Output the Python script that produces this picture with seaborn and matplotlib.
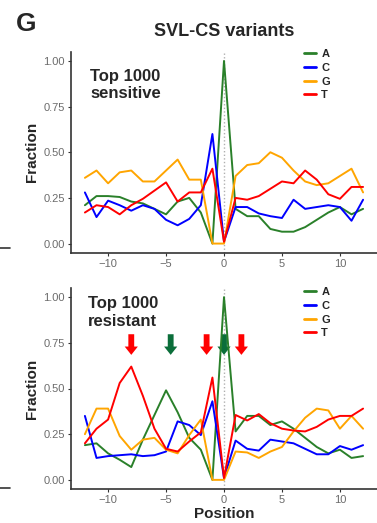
import matplotlib
matplotlib.use("Agg")
import matplotlib.pyplot as plt
import seaborn as sns
import pandas as pd

# ---- data ----
positions = list(range(-12, 13))
bases = ["A", "C", "G", "T"]

sens_A = [0.21, 0.26, 0.26, 0.255, 0.23, 0.22, 0.19, 0.16, 0.23, 0.25, 0.17, 0.0, 1.00,
          0.19, 0.15, 0.15, 0.08, 0.065, 0.065, 0.09, 0.13, 0.17, 0.20, 0.16, 0.19]
sens_C = [0.28, 0.145, 0.235, 0.21, 0.18, 0.21, 0.19, 0.13, 0.10, 0.135, 0.21, 0.60, 0.01,
          0.20, 0.20, 0.165, 0.15, 0.14, 0.24, 0.19, 0.20, 0.21, 0.20, 0.125, 0.24]
sens_G = [0.36, 0.40, 0.33, 0.39, 0.40, 0.34, 0.34, 0.40, 0.46, 0.35, 0.35, 0.0, 0.0,
          0.37, 0.43, 0.44, 0.50, 0.47, 0.40, 0.34, 0.32, 0.33, 0.37, 0.41, 0.28]
sens_T = [0.17, 0.21, 0.20, 0.16, 0.21, 0.245, 0.29, 0.335, 0.23, 0.28, 0.28, 0.41, 0.01,
          0.25, 0.24, 0.26, 0.30, 0.34, 0.33, 0.40, 0.35, 0.27, 0.245, 0.31, 0.31]

res_A = [0.19, 0.20, 0.145, 0.11, 0.07, 0.22, 0.355, 0.49, 0.37, 0.23, 0.165, 0.0, 1.00,
         0.265, 0.35, 0.35, 0.30, 0.32, 0.28, 0.23, 0.18, 0.145, 0.165, 0.12, 0.13]
res_C = [0.35, 0.12, 0.13, 0.135, 0.14, 0.13, 0.135, 0.155, 0.32, 0.30, 0.245, 0.43, 0.01,
         0.215, 0.17, 0.16, 0.22, 0.21, 0.20, 0.17, 0.14, 0.14, 0.185, 0.165, 0.19]
res_G = [0.25, 0.39, 0.39, 0.24, 0.165, 0.22, 0.23, 0.165, 0.145, 0.245, 0.33, 0.0, 0.0,
         0.155, 0.15, 0.12, 0.155, 0.18, 0.265, 0.34, 0.39, 0.38, 0.28, 0.35, 0.28]
res_T = [0.20, 0.28, 0.33, 0.53, 0.62, 0.46, 0.28, 0.17, 0.155, 0.21, 0.26, 0.56, 0.01,
         0.355, 0.325, 0.36, 0.31, 0.28, 0.27, 0.265, 0.29, 0.33, 0.35, 0.35, 0.39]

arrow_pos = [-8, -4.6, -1.5, 0, 1.5]
arrow_col = ["red", "green", "red", "green", "red"]

x_ticks = [-10, -5, 0, 5, 10]
y_ticks = [0.0, 0.25, 0.50, 0.75, 1.00]

palette = {"A": "#2a802a", "C": "#0000ff", "G": "#ffa500", "T": "#ff0000"}
arrow_palette = {"red": "#ff0000", "green": "#0b6e3a"}


def long_df(series):
    rows = []
    for b, vals in zip(bases, series):
        for p, v in zip(positions, vals):
            rows.append({"Position": p, "Fraction": v, "Base": b})
    return pd.DataFrame(rows)


df_sens = long_df([sens_A, sens_C, sens_G, sens_T])
df_res = long_df([res_A, res_C, res_G, res_T])

sns.set_theme(style="white")
plt.rcParams["font.family"] = ["Liberation Sans", "DejaVu Sans"]

W, H = 377, 523
fig = plt.figure(figsize=(W / 100, H / 100), dpi=100)


def px_axes(left, top, right, bottom):
    return fig.add_axes([left / W, 1 - bottom / H, (right - left) / W, (bottom - top) / H])


ax1 = px_axes(71, 51.8, 377, 252.7)
ax2 = px_axes(71, 288, 377, 489)

tick_col = "#6b6b6b"
for ax, df in [(ax1, df_sens), (ax2, df_res)]:
    ax.axvline(0, color="#b0b0b0", ls=(0, (1, 1.6)), lw=1.0, zorder=1)
    sns.lineplot(data=df, x="Position", y="Fraction", hue="Base", hue_order=bases,
                 palette=palette, linewidth=1.4, ax=ax, zorder=3)
    ax.set_xlim(-13.2, 13.2)
    ax.set_ylim(-0.05, 1.05)
    ax.set_xticks(x_ticks)
    ax.set_yticks(y_ticks)
    ax.set_yticklabels([f"{v:.2f}" for v in y_ticks])
    for s in ["top", "right"]:
        ax.spines[s].set_visible(False)
    for s in ["left", "bottom"]:
        ax.spines[s].set_color("#333333")
        ax.spines[s].set_linewidth(1.2)
    ax.tick_params(axis="both", which="major", length=2.5, width=0.8, color="#333333",
                   labelsize=8, labelcolor=tick_col, pad=2, left=True, bottom=True)
    ax.set_ylabel("Fraction", fontsize=11, fontweight="bold", labelpad=3)
    ax.set_xlabel("")

ax2.set_xlabel("Position", fontsize=11, fontweight="bold", labelpad=1)

# legends
for ax, ytop in [(ax1, 49.0), (ax2, 287.0)]:
    sns.move_legend(ax, loc="upper left", bbox_to_anchor=(304 / W, 1 - ytop / H),
                    bbox_transform=fig.transFigure, frameon=False, title=None,
                    fontsize=8, handlelength=1.1, handletextpad=0.45,
                    labelspacing=0.34, borderpad=0, borderaxespad=0)
    leg = ax.get_legend()
    for t in leg.get_texts():
        t.set_fontweight("bold")
    for h in leg.get_lines():
        h.set_linewidth(2.0)

# panel annotations
ax1.text(-11.55, 0.891, "Top 1000", fontsize=12, fontweight="bold", ha="left", va="baseline")
ax1.text(-11.55, 0.799, "sensitive", fontsize=12, fontweight="bold", ha="left", va="baseline")
ax2.text(-11.76, 0.94, "Top 1000", fontsize=12, fontweight="bold", ha="left", va="baseline")
ax2.text(-11.76, 0.84, "resistant", fontsize=12, fontweight="bold", ha="left", va="baseline")

# arrows
for xp, c in zip(arrow_pos, arrow_col):
    ax2.annotate("", xy=(xp, 0.684), xytext=(xp, 0.797),
                 arrowprops=dict(arrowstyle="simple,head_length=0.6,head_width=0.95,tail_width=0.42",
                                 color=arrow_palette[c], shrinkA=0, shrinkB=0,
                                 mutation_scale=10, lw=0),
                 zorder=2)

# titles
fig.text(224.5 / W, 1 - 32 / H, "SVL-CS variants", fontsize=13, fontweight="bold",
         ha="center", va="center")
fig.text(26 / W, 1 - 24 / H, "G", fontsize=19, fontweight="bold", ha="center", va="center")

# stray edge marks from neighbouring panel
for yy in [248.3, 488.3]:
    fig.add_artist(plt.Line2D([0, 10 / W], [1 - yy / H, 1 - yy / H], color="#333333",
                              lw=1.2, transform=fig.transFigure))

fig.savefig("out.png", dpi=100)
